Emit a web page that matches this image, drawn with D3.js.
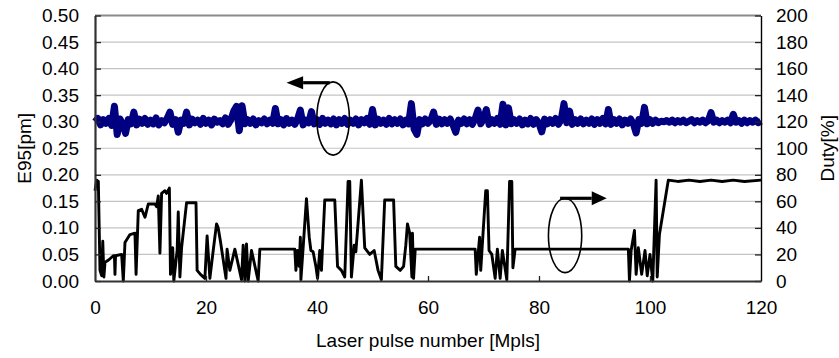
<!DOCTYPE html>
<html>
<head>
<meta charset="utf-8">
<script src="https://cdn.jsdelivr.net/npm/d3@7"></script>
<style>
  html, body { margin: 0; padding: 0; background: #fff; }
  svg { display: block; font-family: "Liberation Sans", Arial, sans-serif; }
</style>
</head>
<body>
<svg id="chart" width="839" height="358"></svg>
<script>
// ---------- DATA ----------
const xTicks = [0, 20, 40, 60, 80, 100, 120];
const leftTicks = [0, 0.05, 0.10, 0.15, 0.20, 0.25, 0.30, 0.35, 0.40, 0.45, 0.50];
const rightTicks = [0, 20, 40, 60, 80, 100, 120, 140, 160, 180, 200];

// E95 [pm], sampled every 0.5 Mpls from 0 to 120
const e95Start = 0, e95Step = 0.5;
const e95Values = [
  0.300, 0.306, 0.294, 0.304, 0.297, 0.306, 0.293, 0.329, 0.276, 0.305,
  0.296, 0.278, 0.304, 0.296, 0.318, 0.294, 0.305, 0.297, 0.306, 0.295,
  0.303, 0.296, 0.307, 0.294, 0.302, 0.298, 0.306, 0.318, 0.295, 0.304,
  0.280, 0.303, 0.297, 0.318, 0.294, 0.305, 0.298, 0.303, 0.295, 0.306,
  0.297, 0.303, 0.294, 0.305, 0.299, 0.302, 0.296, 0.307, 0.295, 0.304,
  0.320, 0.329, 0.283, 0.330, 0.296, 0.304, 0.297, 0.305, 0.294, 0.302,
  0.298, 0.305, 0.296, 0.303, 0.297, 0.325, 0.296, 0.304, 0.294, 0.306,
  0.297, 0.303, 0.295, 0.305, 0.322, 0.294, 0.303, 0.298, 0.319, 0.296,
  0.304, 0.295, 0.306, 0.297, 0.303, 0.296, 0.305, 0.294, 0.304, 0.297,
  0.306, 0.295, 0.303, 0.297, 0.305, 0.294, 0.304, 0.298, 0.306, 0.295,
  0.323, 0.294, 0.305, 0.297, 0.303, 0.295, 0.306, 0.296, 0.304, 0.297,
  0.305, 0.294, 0.303, 0.296, 0.334, 0.286, 0.276, 0.304, 0.296, 0.305,
  0.297, 0.303, 0.318, 0.295, 0.305, 0.296, 0.304, 0.297, 0.305, 0.294,
  0.280, 0.303, 0.297, 0.305, 0.296, 0.304, 0.295, 0.306, 0.322, 0.296,
  0.305, 0.323, 0.295, 0.304, 0.297, 0.306, 0.295, 0.333, 0.294, 0.326,
  0.296, 0.304, 0.297, 0.305, 0.294, 0.303, 0.296, 0.306, 0.295, 0.304,
  0.297, 0.281, 0.305, 0.296, 0.304, 0.297, 0.306, 0.295, 0.304, 0.334,
  0.298, 0.320, 0.295, 0.304, 0.297, 0.305, 0.296, 0.303, 0.297, 0.305,
  0.295, 0.304, 0.297, 0.306, 0.296, 0.323, 0.295, 0.304, 0.297, 0.305,
  0.294, 0.303, 0.297, 0.305, 0.296, 0.279, 0.304, 0.297, 0.327, 0.296,
  0.304, 0.297, 0.303, 0.298, 0.301, 0.300, 0.302, 0.299, 0.303, 0.298,
  0.302, 0.299, 0.303, 0.298, 0.301, 0.304, 0.298, 0.302, 0.299, 0.303,
  0.298, 0.302, 0.317, 0.299, 0.303, 0.298, 0.302, 0.299, 0.303, 0.298,
  0.314, 0.299, 0.302, 0.297, 0.303, 0.298, 0.302, 0.299, 0.303, 0.298,
  0.301
];

// Duty [%] : [pulse number (Mpls), duty]
const dutyPoints = [
  [0, 68], [0.3, 76], [0.6, 75], [0.9, 8], [1.2, 4], [1.4, 30], [1.6, 3], [1.8, 14],
  [2.5, 16], [3.3, 19], [3.5, 19], [3.6, 5], [3.7, 19], [4.8, 20], [5.1, 0], [5.4, 29],
  [6.3, 35], [7.2, 36], [7.4, 5], [7.8, 53], [8.4, 54], [9.0, 48], [9.6, 58], [10.8, 58],
  [11.1, 56], [11.4, 64], [11.7, 21], [12.0, 66], [12.6, 68], [12.9, 66], [13.4, 70], [13.6, 5],
  [14.0, 25], [14.2, 0], [14.8, 23], [15.0, 52], [15.3, 3], [15.6, 25], [16.5, 59], [18.2, 59],
  [18.4, 8], [19.0, 5], [19.8, 2], [20.2, 34], [20.7, 2], [21.3, 23], [21.9, 43], [22.2, 40],
  [22.6, 30], [23.6, 2], [23.8, 24], [24.3, 8], [25.2, 24], [26.4, 1], [26.7, 27], [27.0, 0],
  [27.3, 28], [27.6, 0], [28.2, 23], [29.4, 0], [29.7, 24], [36.0, 24], [36.2, 8], [36.5, 23],
  [36.8, 11], [37.0, 33], [37.1, 1], [37.5, 25], [38.1, 62], [38.6, 33], [38.9, 23], [39.3, 22],
  [39.8, 11], [40.1, 2], [40.5, 23], [40.8, 8], [41.4, 61], [43.2, 61], [43.7, 11], [44.4, 8],
  [45.0, 3], [45.6, 75], [45.9, 75], [46.2, 3], [46.7, 27], [47.0, 22], [48.0, 76], [48.6, 25],
  [49.5, 20], [50.3, 23], [51.0, 8], [51.6, 1], [52.2, 61], [53.8, 61], [54.2, 11], [55.0, 8],
  [55.6, 11], [56.0, 27], [56.3, 43], [56.7, 36], [57.1, 3], [57.2, 36], [57.4, 2], [57.7, 24],
  [68.5, 24], [68.7, 5], [69.3, 33], [69.5, 8], [70.4, 68], [70.7, 68], [71.0, 23], [71.5, 20],
  [72.1, 2], [72.5, 24], [73.0, 2], [73.4, 23], [74.2, 1], [74.7, 75], [75.1, 75], [75.3, 10],
  [75.7, 24], [96.1, 24], [96.3, 0], [96.6, 23], [97.2, 38], [97.5, 5], [97.9, 25], [98.5, 5],
  [99.1, 23], [99.5, 4], [100.0, 20], [100.5, 0], [101.1, 76], [101.3, 3], [101.7, 35], [103.3, 76],
  [105, 75], [107, 76], [109, 75], [111, 76], [113, 75], [115, 76], [117, 75], [120, 76]
];

// ---------- LAYOUT ----------
const svg = d3.select("#chart");
const L = 95, R = 761, T = 15.5, B = 281;
const font = 19;

const x = d3.scaleLinear().domain([0, 120]).range([L, R]);
const yL = d3.scaleLinear().domain([0, 0.5]).range([B, T]);
const yR = d3.scaleLinear().domain([0, 200]).range([B, T]);

// gridlines
svg.append("g").selectAll("line").data(leftTicks.slice(1, -1)).join("line")
  .attr("x1", L).attr("x2", R)
  .attr("y1", d => yL(d)).attr("y2", d => yL(d))
  .attr("stroke", "#c4c4c4").attr("stroke-width", 1.2);
// top border
svg.append("line").attr("x1", L).attr("x2", R).attr("y1", yL(0.5)).attr("y2", yL(0.5))
  .attr("stroke", "#8a8a8a").attr("stroke-width", 1.8);

// E95 line
const e95Data = e95Values.map((v, i) => [e95Start + i * e95Step, v]);
svg.append("path").datum(e95Data)
  .attr("fill", "none").attr("stroke", "#000080").attr("stroke-width", 7)
  .attr("stroke-linejoin", "round")
  .attr("d", d3.line().x(d => x(d[0])).y(d => yL(d[1])));

// Duty line
svg.append("path").datum(dutyPoints)
  .attr("fill", "none").attr("stroke", "#000").attr("stroke-width", 2.9)
  .attr("stroke-linejoin", "round")
  .attr("d", d3.line().x(d => x(d[0])).y(d => yR(d[1])));

// axes
const fmtL = d3.format(".2f");
const gL = svg.append("g").attr("transform", `translate(${L},0)`)
  .call(d3.axisLeft(yL).tickValues(leftTicks).tickFormat(fmtL).tickSizeInner(-6).tickSizeOuter(0).tickPadding(16));
const gR = svg.append("g").attr("transform", `translate(${R},0)`)
  .call(d3.axisRight(yR).tickValues(rightTicks).tickSizeInner(-6).tickSizeOuter(0).tickPadding(15));
const gB = svg.append("g").attr("transform", `translate(0,${B})`)
  .call(d3.axisBottom(x).tickValues(xTicks).tickSizeInner(-5).tickSizeOuter(0).tickPadding(20));

[gL, gR, gB].forEach(g => {
  g.selectAll("text").attr("font-size", font).attr("fill", "#000")
    .attr("font-family", "'Liberation Sans', Arial, sans-serif");
  g.selectAll(".tick line").attr("stroke", "#222").attr("stroke-width", 1.3);
});
gL.select(".domain").attr("stroke", "#333").attr("stroke-width", 2.2);
gB.select(".domain").attr("stroke", "#333").attr("stroke-width", 2.2);
gR.select(".domain").attr("stroke", "#000").attr("stroke-width", 1.4);
gB.selectAll(".tick").filter(d => d === 0 || d === 120).select("line").remove();

// axis titles
svg.append("text").attr("x", (L + R) / 2).attr("y", 347).attr("text-anchor", "middle")
  .attr("font-size", 19).text("Laser pulse number [Mpls]");
svg.append("text").attr("transform", `translate(31,${(T + B) / 2}) rotate(-90)`)
  .attr("text-anchor", "middle").attr("font-size", 19).text("E95[pm]");
svg.append("text").attr("transform", `translate(834,${(T + B) / 2}) rotate(-90)`)
  .attr("text-anchor", "middle").attr("font-size", 19).text("Duty[%]");

// annotations (in data units)
const leftNote = { cx: 42.9, cy: 0.306, rx: 2.94, ry: 0.069, ax0: 42.3, ay: 0.3734, tip: 34.5, base: 37.5 };
const rightNote = { cx: 84.7, cy: 34.3, rx: 3.0, ry: 28, ax0: 83.8, ay: 62.3, tip: 92.2, base: 89.5 };

function drawNote(n, ys, half) {
  const pxr = x(n.cx + n.rx) - x(n.cx);
  const pyr = ys(0) - ys(n.ry);
  svg.append("ellipse").attr("cx", x(n.cx)).attr("cy", ys(n.cy))
    .attr("rx", pxr).attr("ry", pyr)
    .attr("fill", "none").attr("stroke", "#000").attr("stroke-width", 1.6);
  svg.append("line").attr("x1", x(n.ax0)).attr("x2", x(n.base)).attr("y1", ys(n.ay)).attr("y2", ys(n.ay))
    .attr("stroke", "#000").attr("stroke-width", 3.2);
  const yy = ys(n.ay);
  svg.append("path")
    .attr("d", `M${x(n.tip)},${yy}L${x(n.base)},${yy - half}L${x(n.base)},${yy + half}Z`)
    .attr("fill", "#000");
}
drawNote(leftNote, yL, 6.5);
drawNote(rightNote, yR, 7);
</script>
</body>
</html>
